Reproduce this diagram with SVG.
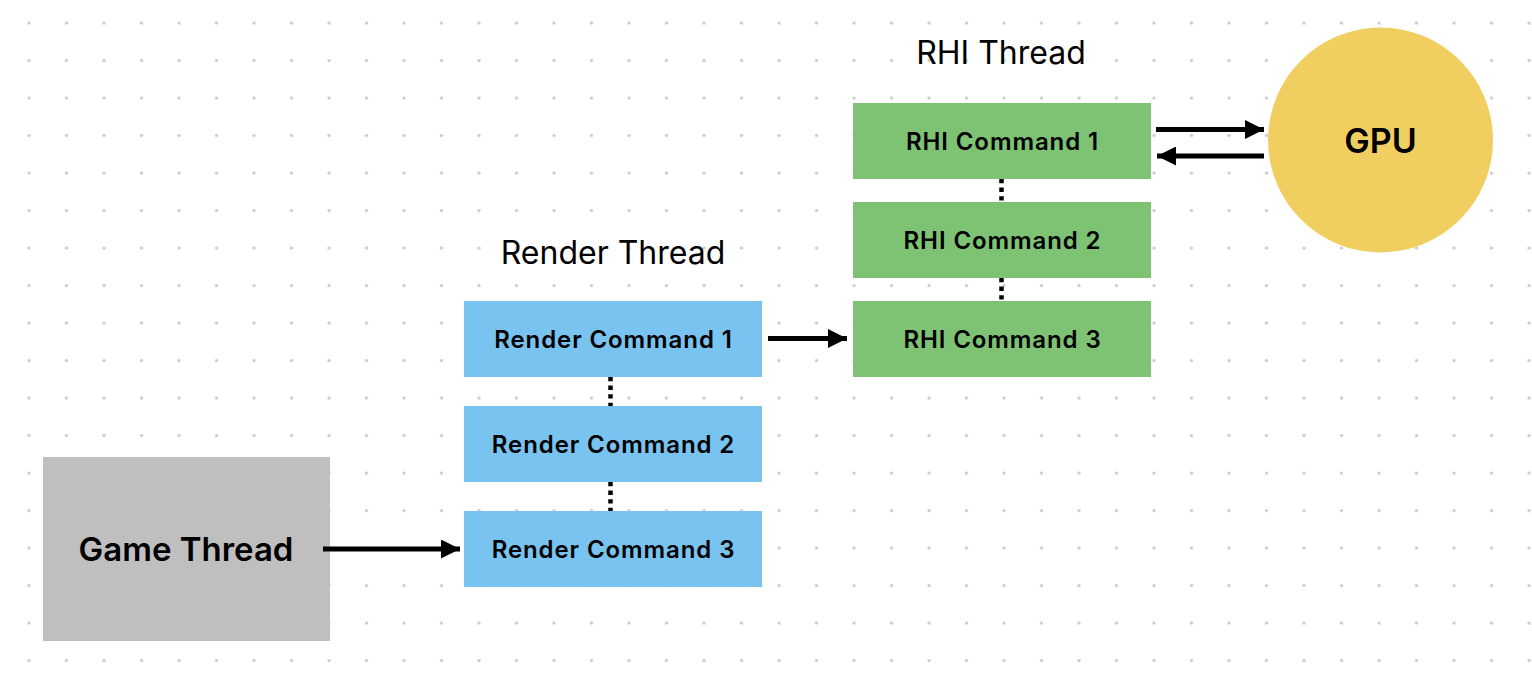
<svg xmlns="http://www.w3.org/2000/svg" width="1532" height="684" viewBox="0 0 1532 684">
<defs>
<pattern id="dots" patternUnits="userSpaceOnUse" x="0" y="0" width="37.5" height="37.5">
<circle cx="29" cy="23" r="1.6" fill="#c9c9c9"/>
</pattern>
<marker id="arrow" markerUnits="userSpaceOnUse" viewBox="0 0 19 19" refX="19" refY="9.5" markerWidth="19" markerHeight="19" orient="auto">
<polygon points="0,0 19,9.5 0,19" fill="#000"/>
</marker>
<style>
.lbl{font-family:Inter,"Noto Sans","Liberation Sans",sans-serif;font-weight:600;fill:#000;text-anchor:middle}
.cmd{font-size:24px;letter-spacing:0.9px}
.title{font-family:Inter,"Noto Sans","Liberation Sans",sans-serif;font-weight:400;font-size:32px;fill:#000;text-anchor:middle}
.render{fill:#79C3F1}
.rhi{fill:#7EC273}
.arr{stroke:#000;stroke-width:5;fill:none;marker-end:url(#arrow)}
.dot{stroke:#000;stroke-width:4.5;stroke-dasharray:4.3 4.3;fill:none}
</style>
</defs>
<rect width="1532" height="684" fill="#fff"/>
<rect width="1532" height="684" fill="url(#dots)"/>

<text class="title" x="613" y="264">Render Thread</text>
<text class="title" x="1001" y="64">RHI Thread</text>

<g id="game-thread">
<rect x="43" y="457" width="287" height="184" fill="#BFBFBF"/>
<text class="lbl" x="186" y="561" font-size="33">Game Thread</text>
</g>

<g id="render-cmd-1">
<rect class="render" x="464" y="301" width="298" height="76"/>
<text class="lbl cmd" x="613.5" y="348">Render Command 1</text>
</g>
<g id="render-cmd-2">
<rect class="render" x="464" y="406" width="298" height="76"/>
<text class="lbl cmd" x="613.5" y="453">Render Command 2</text>
</g>
<g id="render-cmd-3">
<rect class="render" x="464" y="511" width="298" height="76"/>
<text class="lbl cmd" x="613.5" y="558">Render Command 3</text>
</g>

<g id="rhi-cmd-1">
<rect class="rhi" x="853" y="103" width="298" height="76"/>
<text class="lbl cmd" x="1002.5" y="150">RHI Command 1</text>
</g>
<g id="rhi-cmd-2">
<rect class="rhi" x="853" y="202" width="298" height="76"/>
<text class="lbl cmd" x="1002.5" y="249">RHI Command 2</text>
</g>
<g id="rhi-cmd-3">
<rect class="rhi" x="853" y="301" width="298" height="76"/>
<text class="lbl cmd" x="1002.5" y="348">RHI Command 3</text>
</g>

<g id="gpu">
<circle cx="1380.5" cy="140" r="112.5" fill="#F0CE5F"/>
<text class="lbl" x="1380.5" y="153" font-size="34">GPU</text>
</g>

<g id="connectors">
<line class="arr" x1="323" y1="549" x2="460" y2="549"/>
<line class="arr" x1="768" y1="338.5" x2="847" y2="338.5"/>
<line class="arr" x1="1156" y1="129.5" x2="1264" y2="129.5"/>
<line class="arr" x1="1264" y1="156" x2="1157" y2="156"/>
<line class="dot" x1="610.5" y1="377" x2="610.5" y2="406"/>
<line class="dot" x1="610.5" y1="482" x2="610.5" y2="511"/>
<line class="dot" x1="1001.5" y1="179" x2="1001.5" y2="202"/>
<line class="dot" x1="1001.5" y1="278" x2="1001.5" y2="301"/>
</g>
</svg>
